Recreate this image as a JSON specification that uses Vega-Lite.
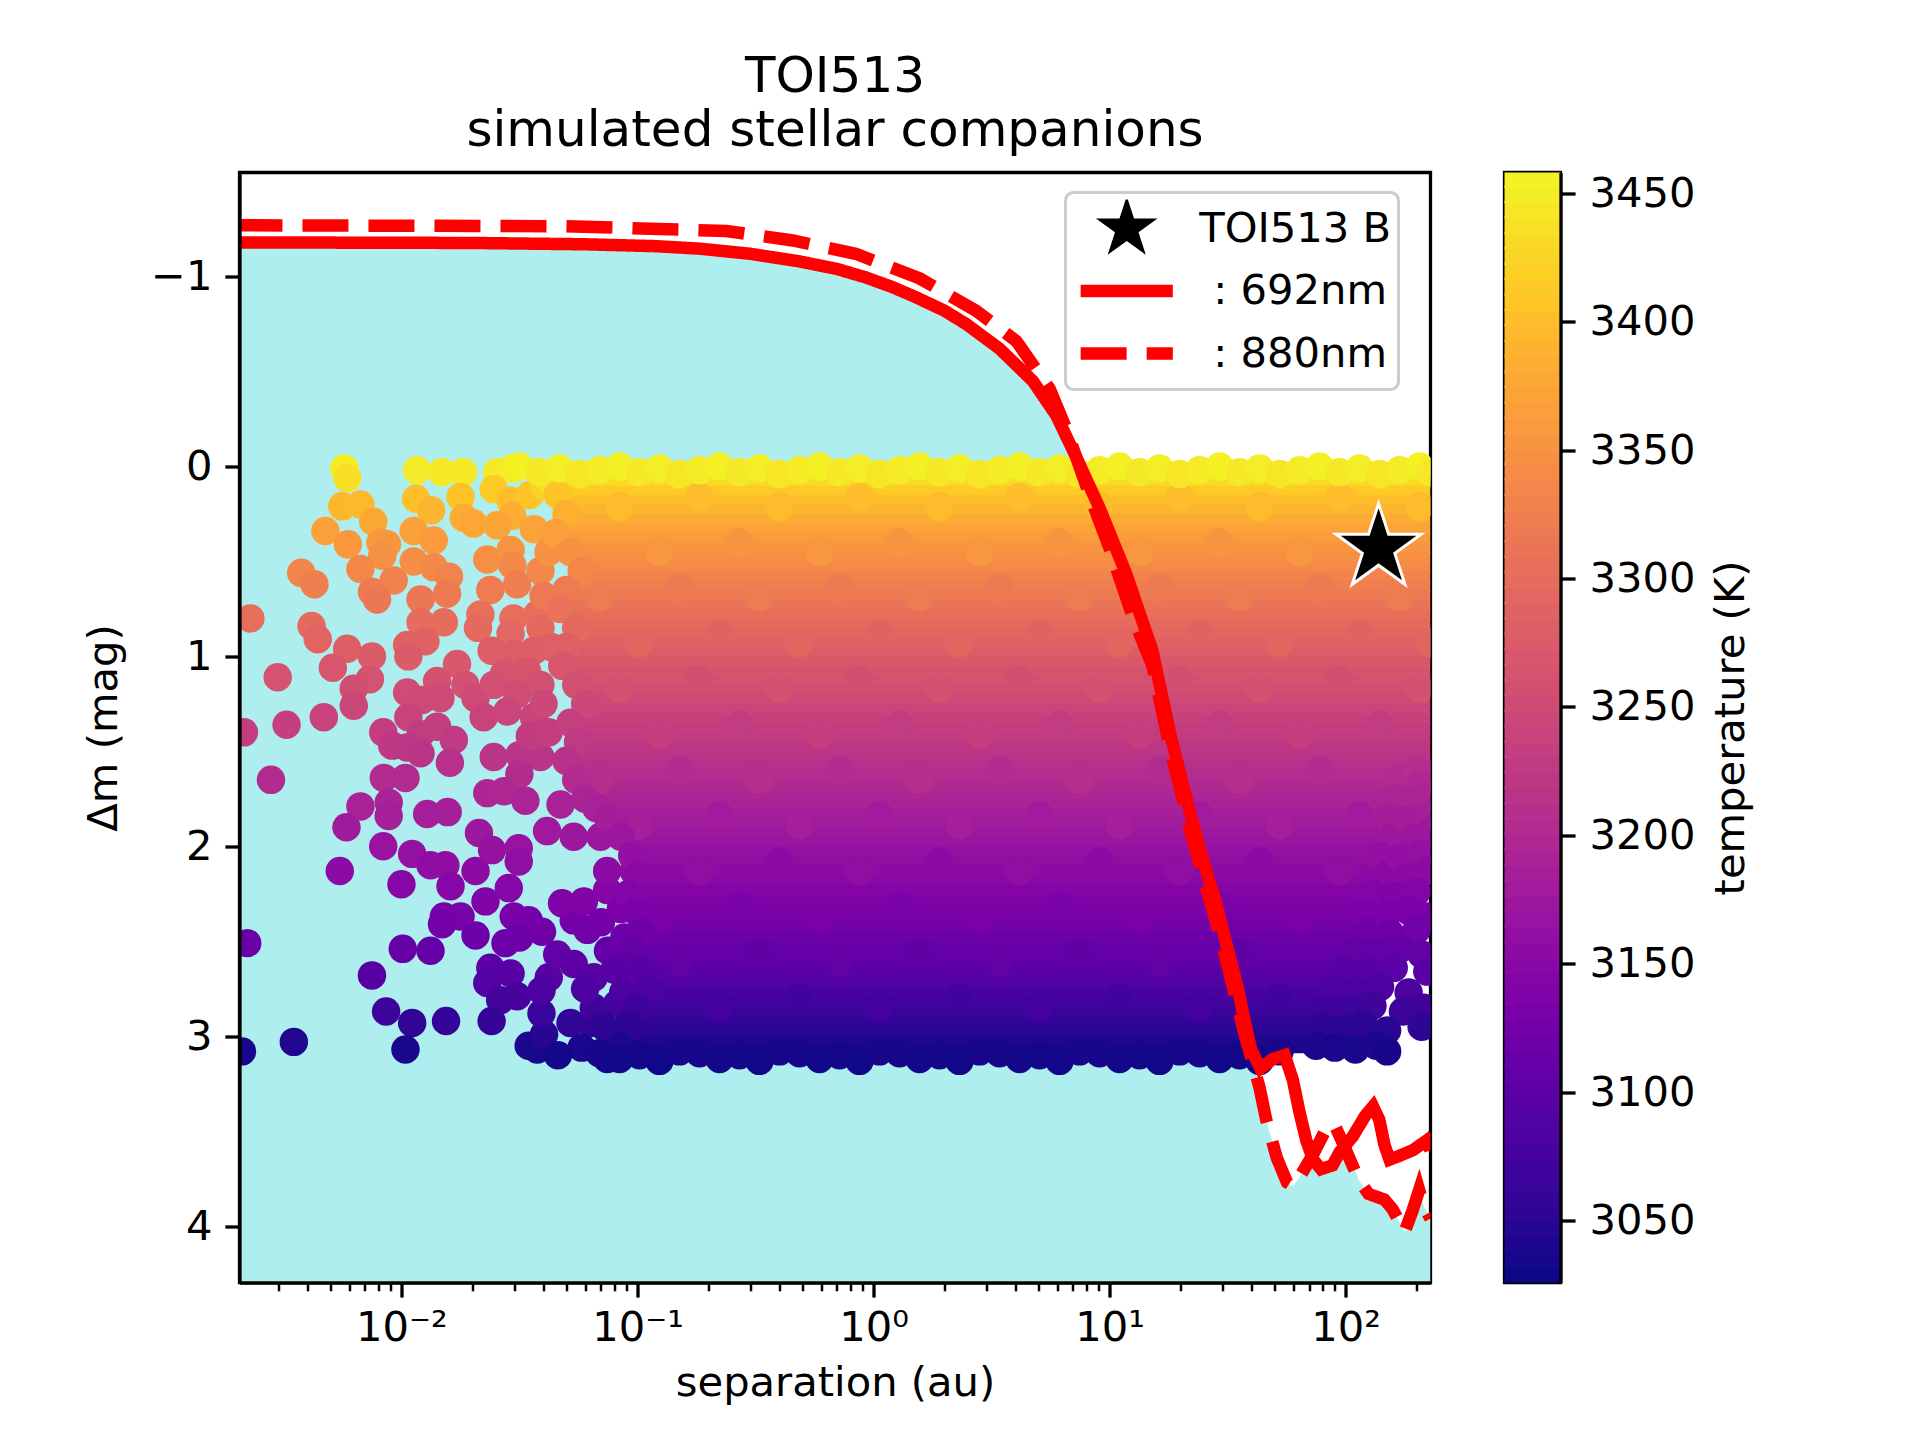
{
  "$schema": "https://vega.github.io/schema/vega-lite/v6.json",
  "background": "white",
  "padding": {"left": 81.5, "top": 49.5, "right": 10, "bottom": 10},
  "config": {
    "font": "DejaVu Sans",
    "view": {"stroke": "black", "strokeWidth": 3.3},
    "axis": {"labelFontSize": 41.67, "titleFontSize": 41.67, "titleFontWeight": "normal", "labelColor": "black", "titleColor": "black", "tickColor": "black", "domainColor": "black", "grid": false, "labelFlush": false, "labelOverlap": false},
    "legend": {"strokeWidth": 3}
  },
  "datasets": {
    "fill": [
      {"s":0.002,"m":-1.18},{"s":0.02,"m":-1.177},{"s":0.06,"m":-1.17},{"s":0.12,"m":-1.16},{"s":0.183,"m":-1.147},{"s":0.3,"m":-1.12},{"s":0.485,"m":-1.08},{"s":0.7,"m":-1.04},{"s":0.93,"m":-0.995},{"s":1.2,"m":-0.945},{"s":1.52,"m":-0.89},{"s":2.0,"m":-0.82},{"s":2.47,"m":-0.75},{"s":3.42,"m":-0.62},{"s":4.73,"m":-0.45},{"s":5.94,"m":-0.27},{"s":7.22,"m":-0.03},{"s":8.22,"m":0.15},{"s":10,"m":0.43},{"s":12.6,"m":0.8},{"s":15.2,"m":1.05},{"s":18,"m":1.48},{"s":22,"m":1.92},{"s":25,"m":2.17},{"s":28.3,"m":2.4},{"s":31.5,"m":2.62},{"s":35,"m":2.85},{"s":37.5,"m":3.0},{"s":40,"m":3.12},{"s":43.2,"m":3.27},{"s":46.1,"m":3.44},{"s":51.1,"m":3.64},{"s":56.5,"m":3.77},{"s":60,"m":3.79},{"s":64,"m":3.74},{"s":68.2,"m":3.68},{"s":72.9,"m":3.65},{"s":78.7,"m":3.7},{"s":88.1,"m":3.68},{"s":94.4,"m":3.61},{"s":98,"m":3.58},{"s":107,"m":3.67},{"s":114,"m":3.76},{"s":125,"m":3.83},{"s":146,"m":3.86},{"s":158,"m":3.91},{"s":178,"m":4.03},{"s":192,"m":3.92},{"s":205,"m":3.81},{"s":215,"m":3.9},{"s":229,"m":3.96}
    ],
    "curves": [
      {"s":0.002,"m":-1.18,"w":"692"},{"s":0.02,"m":-1.177,"w":"692"},{"s":0.06,"m":-1.17,"w":"692"},{"s":0.12,"m":-1.16,"w":"692"},{"s":0.183,"m":-1.147,"w":"692"},{"s":0.3,"m":-1.12,"w":"692"},{"s":0.485,"m":-1.08,"w":"692"},{"s":0.7,"m":-1.04,"w":"692"},{"s":0.93,"m":-0.995,"w":"692"},{"s":1.2,"m":-0.945,"w":"692"},{"s":1.52,"m":-0.89,"w":"692"},{"s":2.0,"m":-0.82,"w":"692"},{"s":2.47,"m":-0.75,"w":"692"},{"s":3.42,"m":-0.62,"w":"692"},{"s":4.73,"m":-0.45,"w":"692"},{"s":5.94,"m":-0.27,"w":"692"},{"s":7.22,"m":-0.05,"w":"692"},{"s":9.08,"m":0.22,"w":"692"},{"s":11.8,"m":0.57,"w":"692"},{"s":15.2,"m":0.97,"w":"692"},{"s":18,"m":1.4,"w":"692"},{"s":22,"m":1.83,"w":"692"},{"s":25,"m":2.08,"w":"692"},{"s":28.3,"m":2.3,"w":"692"},{"s":31.5,"m":2.53,"w":"692"},{"s":35,"m":2.75,"w":"692"},{"s":37.5,"m":2.93,"w":"692"},{"s":39.8,"m":3.07,"w":"692"},{"s":43.6,"m":3.17,"w":"692"},{"s":49.2,"m":3.12,"w":"692"},{"s":55.2,"m":3.1,"w":"692"},{"s":59.8,"m":3.23,"w":"692"},{"s":63.8,"m":3.4,"w":"692"},{"s":68.2,"m":3.55,"w":"692"},{"s":72.9,"m":3.65,"w":"692"},{"s":78.7,"m":3.7,"w":"692"},{"s":88.1,"m":3.68,"w":"692"},{"s":94.4,"m":3.61,"w":"692"},{"s":107,"m":3.53,"w":"692"},{"s":121,"m":3.42,"w":"692"},{"s":130.7,"m":3.37,"w":"692"},{"s":139,"m":3.44,"w":"692"},{"s":146,"m":3.57,"w":"692"},{"s":153.6,"m":3.65,"w":"692"},{"s":169,"m":3.63,"w":"692"},{"s":193,"m":3.6,"w":"692"},{"s":220,"m":3.55,"w":"692"},{"s":229,"m":3.6,"w":"692"},
      {"s":0.002,"m":-1.27,"w":"880"},{"s":0.05,"m":-1.265,"w":"880"},{"s":0.238,"m":-1.24,"w":"880"},{"s":0.455,"m":-1.19,"w":"880"},{"s":0.84,"m":-1.12,"w":"880"},{"s":1.57,"m":-0.99,"w":"880"},{"s":2.72,"m":-0.82,"w":"880"},{"s":4.03,"m":-0.66,"w":"880"},{"s":5.57,"m":-0.41,"w":"880"},{"s":6.55,"m":-0.2,"w":"880"},{"s":8.22,"m":0.15,"w":"880"},{"s":10,"m":0.43,"w":"880"},{"s":12.6,"m":0.8,"w":"880"},{"s":15.2,"m":1.05,"w":"880"},{"s":18,"m":1.48,"w":"880"},{"s":22,"m":1.92,"w":"880"},{"s":25,"m":2.17,"w":"880"},{"s":28.3,"m":2.4,"w":"880"},{"s":31.5,"m":2.62,"w":"880"},{"s":35,"m":2.85,"w":"880"},{"s":37.5,"m":3.0,"w":"880"},{"s":40,"m":3.12,"w":"880"},{"s":43.2,"m":3.27,"w":"880"},{"s":46.1,"m":3.44,"w":"880"},{"s":51.1,"m":3.64,"w":"880"},{"s":56.5,"m":3.77,"w":"880"},{"s":60,"m":3.79,"w":"880"},{"s":64,"m":3.74,"w":"880"},{"s":73,"m":3.62,"w":"880"},{"s":85,"m":3.46,"w":"880"},{"s":90,"m":3.47,"w":"880"},{"s":98,"m":3.57,"w":"880"},{"s":114,"m":3.76,"w":"880"},{"s":125,"m":3.83,"w":"880"},{"s":146,"m":3.86,"w":"880"},{"s":158,"m":3.91,"w":"880"},{"s":178,"m":4.03,"w":"880"},{"s":192,"m":3.92,"w":"880"},{"s":205,"m":3.81,"w":"880"},{"s":215,"m":3.9,"w":"880"},{"s":229,"m":3.96,"w":"880"}
    ],
    "star": [{"s":138,"m":0.43,"w":"B"}],
    "bands": [
      {"s":0.042,"s2":229,"m":0.02,"m2":0.08,"t":3435},{"s":0.042,"s2":229,"m":0.05,"m2":0.11,"t":3427},
      {"s":0.046,"s2":229,"m":0.1,"m2":0.16,"t":3411},{"s":0.046,"s2":229,"m":0.15,"m2":0.21,"t":3399},
      {"s":0.05,"s2":229,"m":0.2,"m2":0.26,"t":3387},{"s":0.05,"s2":229,"m":0.25,"m2":0.31,"t":3377},
      {"s":0.045,"s2":229,"m":0.3,"m2":0.36,"t":3367},{"s":0.045,"s2":229,"m":0.35,"m2":0.41,"t":3359},
      {"s":0.052,"s2":229,"m":0.4,"m2":0.46,"t":3351},{"s":0.052,"s2":229,"m":0.45,"m2":0.51,"t":3343},
      {"s":0.058,"s2":229,"m":0.5,"m2":0.56,"t":3336},{"s":0.058,"s2":229,"m":0.55,"m2":0.61,"t":3329},
      {"s":0.05,"s2":229,"m":0.6,"m2":0.66,"t":3322},{"s":0.05,"s2":229,"m":0.65,"m2":0.71,"t":3315},
      {"s":0.047,"s2":229,"m":0.7,"m2":0.76,"t":3308},{"s":0.047,"s2":229,"m":0.75,"m2":0.81,"t":3302},
      {"s":0.055,"s2":229,"m":0.8,"m2":0.86,"t":3295},{"s":0.055,"s2":229,"m":0.85,"m2":0.91,"t":3289},
      {"s":0.05,"s2":229,"m":0.9,"m2":0.96,"t":3282},{"s":0.05,"s2":229,"m":0.95,"m2":1.01,"t":3275},
      {"s":0.048,"s2":229,"m":1.0,"m2":1.06,"t":3269},{"s":0.048,"s2":229,"m":1.05,"m2":1.11,"t":3263},
      {"s":0.055,"s2":229,"m":1.1,"m2":1.16,"t":3258},{"s":0.055,"s2":229,"m":1.15,"m2":1.21,"t":3252},
      {"s":0.06,"s2":229,"m":1.2,"m2":1.26,"t":3246},{"s":0.06,"s2":229,"m":1.25,"m2":1.31,"t":3240},
      {"s":0.052,"s2":229,"m":1.3,"m2":1.36,"t":3235},{"s":0.052,"s2":229,"m":1.35,"m2":1.41,"t":3229},
      {"s":0.056,"s2":229,"m":1.4,"m2":1.46,"t":3224},{"s":0.056,"s2":229,"m":1.45,"m2":1.51,"t":3218},
      {"s":0.05,"s2":229,"m":1.5,"m2":1.56,"t":3213},{"s":0.05,"s2":229,"m":1.55,"m2":1.61,"t":3207},
      {"s":0.055,"s2":170,"m":1.6,"m2":1.66,"t":3202},{"s":0.055,"s2":170,"m":1.65,"m2":1.71,"t":3197},
      {"s":0.06,"s2":160,"m":1.7,"m2":1.76,"t":3192},{"s":0.06,"s2":160,"m":1.75,"m2":1.81,"t":3187},
      {"s":0.075,"s2":150,"m":1.8,"m2":1.86,"t":3182},{"s":0.075,"s2":150,"m":1.85,"m2":1.91,"t":3177},
      {"s":0.085,"s2":160,"m":1.9,"m2":1.96,"t":3172},{"s":0.085,"s2":160,"m":1.95,"m2":2.01,"t":3167},
      {"s":0.095,"s2":140,"m":2.0,"m2":2.06,"t":3162},{"s":0.095,"s2":140,"m":2.05,"m2":2.11,"t":3157},
      {"s":0.1,"s2":150,"m":2.1,"m2":2.16,"t":3152},{"s":0.1,"s2":150,"m":2.15,"m2":2.21,"t":3147},
      {"s":0.092,"s2":130,"m":2.2,"m2":2.26,"t":3142},{"s":0.092,"s2":130,"m":2.25,"m2":2.31,"t":3137},
      {"s":0.1,"s2":120,"m":2.3,"m2":2.36,"t":3132},{"s":0.1,"s2":120,"m":2.35,"m2":2.41,"t":3127},
      {"s":0.105,"s2":125,"m":2.4,"m2":2.46,"t":3121},{"s":0.105,"s2":125,"m":2.45,"m2":2.51,"t":3116},
      {"s":0.095,"s2":110,"m":2.5,"m2":2.56,"t":3110},{"s":0.095,"s2":110,"m":2.55,"m2":2.61,"t":3104},
      {"s":0.1,"s2":100,"m":2.6,"m2":2.66,"t":3098},{"s":0.1,"s2":100,"m":2.65,"m2":2.71,"t":3092},
      {"s":0.11,"s2":90,"m":2.7,"m2":2.76,"t":3085},{"s":0.11,"s2":90,"m":2.75,"m2":2.81,"t":3077},
      {"s":0.1,"s2":85,"m":2.8,"m2":2.86,"t":3070},{"s":0.1,"s2":85,"m":2.85,"m2":2.91,"t":3062},
      {"s":0.095,"s2":80,"m":2.9,"m2":2.96,"t":3054},{"s":0.095,"s2":80,"m":2.95,"m2":3.01,"t":3046},
      {"s":0.085,"s2":75,"m":3.0,"m2":3.06,"t":3039},{"s":0.085,"s2":75,"m":3.05,"m2":3.09,"t":3034}
    ],
    "scatter": [
      {"s":0.0839,"m":0.21,"t":3395},{"s":0.1831,"m":0.16,"t":3397},{"s":0.3997,"m":0.21,"t":3395},{"s":0.8723,"m":0.16,"t":3397},{"s":1.904,"m":0.21,"t":3395},{"s":4.156,"m":0.16,"t":3397},{"s":9.071,"m":0.21,"t":3395},{"s":19.8,"m":0.16,"t":3397},{"s":43.21,"m":0.21,"t":3395},{"s":94.32,"m":0.16,"t":3397},{"s":205.9,"m":0.21,"t":3395},
      {"s":0.1239,"m":0.45,"t":3352},{"s":0.2706,"m":0.4,"t":3350},{"s":0.5905,"m":0.45,"t":3352},{"s":1.289,"m":0.4,"t":3350},{"s":2.813,"m":0.45,"t":3352},{"s":6.14,"m":0.4,"t":3350},{"s":13.4,"m":0.45,"t":3352},{"s":29.25,"m":0.4,"t":3350},{"s":63.85,"m":0.45,"t":3352},{"s":139.4,"m":0.4,"t":3350},
      {"s":0.069,"m":0.69,"t":3318},{"s":0.1507,"m":0.64,"t":3315},{"s":0.3288,"m":0.69,"t":3318},{"s":0.7177,"m":0.64,"t":3315},{"s":1.566,"m":0.69,"t":3318},{"s":3.419,"m":0.64,"t":3315},{"s":7.463,"m":0.69,"t":3318},{"s":16.29,"m":0.64,"t":3315},{"s":35.56,"m":0.69,"t":3318},{"s":77.61,"m":0.64,"t":3315},{"s":169.4,"m":0.69,"t":3318},
      {"s":0.102,"m":0.93,"t":3287},{"s":0.2226,"m":0.88,"t":3284},{"s":0.4858,"m":0.93,"t":3287},{"s":1.06,"m":0.88,"t":3284},{"s":2.314,"m":0.93,"t":3287},{"s":5.051,"m":0.88,"t":3284},{"s":11.03,"m":0.93,"t":3287},{"s":24.07,"m":0.88,"t":3284},{"s":52.53,"m":0.93,"t":3287},{"s":114.6,"m":0.88,"t":3284},{"s":229,"m":0.93,"t":3287},
      {"s":0.0839,"m":1.17,"t":3256},{"s":0.1831,"m":1.12,"t":3254},{"s":0.3997,"m":1.17,"t":3256},{"s":0.8723,"m":1.12,"t":3254},{"s":1.904,"m":1.17,"t":3256},{"s":4.156,"m":1.12,"t":3254},{"s":9.071,"m":1.17,"t":3256},{"s":19.8,"m":1.12,"t":3254},{"s":43.21,"m":1.17,"t":3256},{"s":94.32,"m":1.12,"t":3254},{"s":205.9,"m":1.17,"t":3256},
      {"s":0.1239,"m":1.41,"t":3231},{"s":0.2706,"m":1.36,"t":3226},{"s":0.5905,"m":1.41,"t":3231},{"s":1.289,"m":1.36,"t":3226},{"s":2.813,"m":1.41,"t":3231},{"s":6.14,"m":1.36,"t":3226},{"s":13.4,"m":1.41,"t":3231},{"s":29.25,"m":1.36,"t":3226},{"s":63.85,"m":1.41,"t":3231},{"s":139.4,"m":1.36,"t":3226},
      {"s":0.069,"m":1.65,"t":3205},{"s":0.1507,"m":1.6,"t":3200},{"s":0.3288,"m":1.65,"t":3205},{"s":0.7177,"m":1.6,"t":3200},{"s":1.566,"m":1.65,"t":3205},{"s":3.419,"m":1.6,"t":3200},{"s":7.463,"m":1.65,"t":3205},{"s":16.29,"m":1.6,"t":3200},{"s":35.56,"m":1.65,"t":3205},{"s":77.61,"m":1.6,"t":3200},
      {"s":0.102,"m":1.89,"t":3181},{"s":0.2226,"m":1.84,"t":3176},{"s":0.4858,"m":1.89,"t":3181},{"s":1.06,"m":1.84,"t":3176},{"s":2.314,"m":1.89,"t":3181},{"s":5.051,"m":1.84,"t":3176},{"s":11.03,"m":1.89,"t":3181},{"s":24.07,"m":1.84,"t":3176},{"s":52.53,"m":1.89,"t":3181},{"s":114.6,"m":1.84,"t":3176},
      {"s":0.1831,"m":2.13,"t":3157},{"s":0.3997,"m":2.08,"t":3152},{"s":0.8723,"m":2.13,"t":3157},{"s":1.904,"m":2.08,"t":3152},{"s":4.156,"m":2.13,"t":3157},{"s":9.071,"m":2.08,"t":3152},{"s":19.8,"m":2.13,"t":3157},{"s":43.21,"m":2.08,"t":3152},{"s":94.32,"m":2.13,"t":3157},
      {"s":0.1239,"m":2.37,"t":3133},{"s":0.2706,"m":2.32,"t":3128},{"s":0.5905,"m":2.37,"t":3133},{"s":1.289,"m":2.32,"t":3128},{"s":2.813,"m":2.37,"t":3133},{"s":6.14,"m":2.32,"t":3128},{"s":13.4,"m":2.37,"t":3133},{"s":29.25,"m":2.32,"t":3128},{"s":63.85,"m":2.37,"t":3133},
      {"s":0.1507,"m":2.61,"t":3105},{"s":0.3288,"m":2.56,"t":3101},{"s":0.7177,"m":2.61,"t":3105},{"s":1.566,"m":2.56,"t":3101},{"s":3.419,"m":2.61,"t":3105},{"s":7.463,"m":2.56,"t":3101},{"s":16.29,"m":2.61,"t":3105},{"s":35.56,"m":2.56,"t":3101},
      {"s":0.2226,"m":2.85,"t":3071},{"s":0.4858,"m":2.8,"t":3068},{"s":1.06,"m":2.85,"t":3071},{"s":2.314,"m":2.8,"t":3068},{"s":5.051,"m":2.85,"t":3071},{"s":11.03,"m":2.8,"t":3068},{"s":24.07,"m":2.85,"t":3071},{"s":52.53,"m":2.8,"t":3068},
      {"s":0.00573,"m":0.01,"t":3446},{"s":0.00589,"m":0.06,"t":3432},{"s":0.00561,"m":0.21,"t":3390},{"s":0.0067,"m":0.2,"t":3393},{"s":0.00759,"m":0.29,"t":3374},{"s":0.00476,"m":0.34,"t":3365},{"s":0.00593,"m":0.41,"t":3353},{"s":0.00815,"m":0.4,"t":3355},{"s":0.00869,"m":0.41,"t":3353},{"s":0.00829,"m":0.47,"t":3344},{"s":0.0067,"m":0.54,"t":3334},{"s":0.00376,"m":0.56,"t":3331},{"s":0.00428,"m":0.62,"t":3323},{"s":0.00927,"m":0.6,"t":3326},{"s":0.0075,"m":0.66,"t":3318},{"s":0.00788,"m":0.7,"t":3312},{"s":0.00229,"m":0.8,"t":3299},{"s":0.00416,"m":0.84,"t":3294},{"s":0.00442,"m":0.91,"t":3285},{"s":0.00589,"m":0.96,"t":3278},{"s":0.0075,"m":1.0,"t":3272},{"s":0.00512,"m":1.06,"t":3265},{"s":0.00735,"m":1.12,"t":3259},{"s":0.00299,"m":1.11,"t":3260},{"s":0.00628,"m":1.17,"t":3252},{"s":0.00628,"m":1.26,"t":3242},{"s":0.00326,"m":1.36,"t":3231},{"s":0.00469,"m":1.32,"t":3236},{"s":0.00215,"m":1.4,"t":3227},{"s":0.00837,"m":1.4,"t":3227},{"s":0.00914,"m":1.47,"t":3219},{"s":0.0028,"m":1.65,"t":3200},{"s":0.00842,"m":1.64,"t":3201},
      {"s":0.01165,"m":0.02,"t":3444},{"s":0.01486,"m":0.03,"t":3442},{"s":0.01824,"m":0.03,"t":3442},{"s":0.01153,"m":0.17,"t":3400},{"s":0.0178,"m":0.16,"t":3402},{"s":0.01336,"m":0.23,"t":3387},{"s":0.01127,"m":0.34,"t":3365},{"s":0.0137,"m":0.39,"t":3357},{"s":0.01836,"m":0.27,"t":3378},{"s":0.01127,"m":0.5,"t":3340},{"s":0.0137,"m":0.53,"t":3336},{"s":0.0159,"m":0.58,"t":3329},{"s":0.01205,"m":0.7,"t":3312},{"s":0.0156,"m":0.67,"t":3316},{"s":0.01205,"m":0.82,"t":3296},{"s":0.01513,"m":0.82,"t":3296},{"s":0.01057,"m":0.94,"t":3281},{"s":0.01264,"m":0.92,"t":3283},{"s":0.0107,"m":1.0,"t":3272},{"s":0.0172,"m":1.04,"t":3268},{"s":0.01416,"m":1.13,"t":3258},{"s":0.01057,"m":1.19,"t":3250},{"s":0.01224,"m":1.23,"t":3246},{"s":0.01463,"m":1.22,"t":3247},{"s":0.01866,"m":1.15,"t":3255},{"s":0.0107,"m":1.32,"t":3236},{"s":0.01205,"m":1.41,"t":3226},{"s":0.01416,"m":1.37,"t":3230},{"s":0.01667,"m":1.44,"t":3223},{"s":0.01057,"m":1.48,"t":3218},{"s":0.01205,"m":1.51,"t":3215},{"s":0.01604,"m":1.56,"t":3209},{"s":0.0206,"m":1.22,"t":3247},{"s":0.0223,"m":1.32,"t":3236},
      {"s":0.0255,"m":0.03,"t":3442},{"s":0.0295,"m":0.01,"t":3446},{"s":0.0246,"m":0.12,"t":3412},{"s":0.029,"m":0.18,"t":3398},{"s":0.0295,"m":0.26,"t":3380},{"s":0.0202,"m":0.3,"t":3372},{"s":0.0255,"m":0.31,"t":3370},{"s":0.0364,"m":0.33,"t":3367},{"s":0.0231,"m":0.49,"t":3342},{"s":0.029,"m":0.44,"t":3349},{"s":0.0295,"m":0.52,"t":3337},{"s":0.0238,"m":0.65,"t":3319},{"s":0.0309,"m":0.62,"t":3323},{"s":0.0388,"m":0.55,"t":3333},{"s":0.0216,"m":0.78,"t":3302},{"s":0.0298,"m":0.8,"t":3299},{"s":0.0376,"m":0.78,"t":3302},{"s":0.0211,"m":0.85,"t":3292},{"s":0.029,"m":0.88,"t":3288},{"s":0.0388,"m":0.85,"t":3292},{"s":0.0241,"m":0.97,"t":3276},{"s":0.0301,"m":0.99,"t":3274},{"s":0.0364,"m":0.97,"t":3276},{"s":0.0272,"m":1.09,"t":3262},{"s":0.0341,"m":1.08,"t":3263},{"s":0.0246,"m":1.15,"t":3255},{"s":0.0309,"m":1.2,"t":3249},{"s":0.0388,"m":1.15,"t":3255},{"s":0.0281,"m":1.29,"t":3239},{"s":0.0364,"m":1.32,"t":3236},{"s":0.0246,"m":1.53,"t":3213},{"s":0.0316,"m":1.52,"t":3214},{"s":0.0388,"m":1.53,"t":3213},{"s":0.0316,"m":1.62,"t":3203},
      {"s":0.035,"m":0.15,"t":3405},{"s":0.04,"m":0.1,"t":3418},{"s":0.042,"m":0.45,"t":3347},{"s":0.04,"m":1.25,"t":3243},{"s":0.035,"m":1.42,"t":3225},{"s":0.042,"m":1.4,"t":3227},{"s":0.04,"m":0.68,"t":3314},{"s":0.043,"m":0.95,"t":3279},
      {"s":0.0104,"m":1.64,"t":3201},{"s":0.0067,"m":1.79,"t":3186},{"s":0.00883,"m":1.77,"t":3188},{"s":0.00883,"m":1.84,"t":3181},{"s":0.00585,"m":1.9,"t":3175},{"s":0.01285,"m":1.83,"t":3182},{"s":0.0157,"m":1.82,"t":3183},{"s":0.00837,"m":2.0,"t":3165},{"s":0.0111,"m":2.04,"t":3161},{"s":0.00548,"m":2.13,"t":3152},{"s":0.01,"m":2.2,"t":3145},{"s":0.01328,"m":2.1,"t":3155},{"s":0.01535,"m":2.1,"t":3155},{"s":0.01614,"m":2.21,"t":3144},{"s":0.0213,"m":1.93,"t":3172},{"s":0.0242,"m":2.02,"t":3163},{"s":0.0206,"m":2.13,"t":3152},{"s":0.0314,"m":2.01,"t":3164},{"s":0.0314,"m":2.08,"t":3157},{"s":0.0231,"m":1.72,"t":3193},{"s":0.0272,"m":1.71,"t":3194},{"s":0.0335,"m":1.76,"t":3189},{"s":0.0227,"m":2.29,"t":3136},{"s":0.0285,"m":2.22,"t":3143},{"s":0.01513,"m":2.37,"t":3127},{"s":0.0178,"m":2.37,"t":3127},{"s":0.01486,"m":2.41,"t":3123},{"s":0.0206,"m":2.47,"t":3116},{"s":0.0299,"m":2.37,"t":3127},{"s":0.00222,"m":2.51,"t":3112},{"s":0.01013,"m":2.54,"t":3108},{"s":0.01328,"m":2.55,"t":3107},{"s":0.0276,"m":2.51,"t":3112},{"s":0.0394,"m":2.45,"t":3119},{"s":0.0075,"m":2.68,"t":3091},{"s":0.0238,"m":2.64,"t":3096},{"s":0.0231,"m":2.72,"t":3087},{"s":0.029,"m":2.67,"t":3093},{"s":0.0262,"m":2.81,"t":3072},{"s":0.0309,"m":2.79,"t":3075},{"s":0.0421,"m":2.69,"t":3090},{"s":0.00861,"m":2.87,"t":3063},{"s":0.0111,"m":2.93,"t":3054},{"s":0.01545,"m":2.92,"t":3056},{"s":0.0241,"m":2.92,"t":3056},{"s":0.0035,"m":3.03,"t":3040},{"s":0.00211,"m":3.08,"t":3033},{"s":0.0104,"m":3.07,"t":3034},{"s":0.0346,"m":3.05,"t":3037},{"s":0.0376,"m":3.07,"t":3034},{"s":0.0402,"m":2.99,"t":3044},{"s":0.0392,"m":2.88,"t":3061},{"s":0.052,"m":2.93,"t":3054},{"s":0.0632,"m":2.93,"t":3054},{"s":0.0744,"m":3.12,"t":3031},{"s":0.083,"m":3.03,"t":3040},{"s":0.0457,"m":2.57,"t":3104},{"s":0.0392,"m":2.76,"t":3080},{"s":0.0346,"m":2.39,"t":3125},{"s":0.0316,"m":2.48,"t":3115},{"s":0.0537,"m":2.62,"t":3098},{"s":0.0537,"m":2.39,"t":3125},{"s":0.0479,"m":2.3,"t":3135},{"s":0.0593,"m":2.29,"t":3136},{"s":0.0653,"m":2.69,"t":3090},{"s":0.0653,"m":2.85,"t":3067},{"s":0.0613,"m":2.44,"t":3120},{"s":0.082,"m":2.83,"t":3070},{"s":0.087,"m":2.77,"t":3078},{"s":0.0744,"m":2.23,"t":3142},{"s":0.0964,"m":2.13,"t":3152},{"s":0.0414,"m":1.92,"t":3173},{"s":0.0472,"m":1.78,"t":3187},{"s":0.0537,"m":1.95,"t":3170},{"s":0.0697,"m":1.95,"t":3170},{"s":0.0744,"m":2.13,"t":3152},
      {"s":0.09,"m":2.95,"t":3050},{"s":0.06,"m":2.75,"t":3081},{"s":0.075,"m":2.55,"t":3107},{"s":0.088,"m":2.48,"t":3115},{"s":0.07,"m":2.4,"t":3124},{"s":0.085,"m":2.33,"t":3132},{"s":0.08,"m":2.65,"t":3095},{"s":0.092,"m":2.75,"t":3081},{"s":0.058,"m":3.06,"t":3035},{"s":0.046,"m":3.1,"t":3030},{"s":0.072,"m":2.95,"t":3050},
      {"s":0.042,"m":0.06,"t":3432},{"s":0.046,"m":0.15,"t":3405},{"s":0.05,"m":0.25,"t":3382},{"s":0.045,"m":0.35,"t":3363},{"s":0.052,"m":0.45,"t":3347},{"s":0.058,"m":0.55,"t":3333},{"s":0.05,"m":0.65,"t":3319},{"s":0.047,"m":0.75,"t":3305},{"s":0.055,"m":0.85,"t":3292},{"s":0.05,"m":0.95,"t":3279},{"s":0.048,"m":1.05,"t":3266},{"s":0.055,"m":1.15,"t":3255},{"s":0.06,"m":1.25,"t":3243},{"s":0.052,"m":1.35,"t":3232},{"s":0.056,"m":1.45,"t":3221},{"s":0.05,"m":1.55,"t":3210},{"s":0.055,"m":1.65,"t":3200},{"s":0.06,"m":1.75,"t":3190},{"s":0.067,"m":1.8,"t":3185},{"s":0.075,"m":1.85,"t":3180},{"s":0.085,"m":1.95,"t":3170},{"s":0.095,"m":2.05,"t":3160},{"s":0.1,"m":2.15,"t":3150},{"s":0.092,"m":2.25,"t":3140},{"s":0.1,"m":2.35,"t":3130},{"s":0.105,"m":2.45,"t":3119},{"s":0.095,"m":2.55,"t":3107},{"s":0.1,"m":2.65,"t":3095},{"s":0.11,"m":2.75,"t":3081},{"s":0.1,"m":2.85,"t":3066},{"s":0.095,"m":2.95,"t":3050},{"s":0.085,"m":3.05,"t":3036},
      {"s":0.0316,"m":0.0,"t":3450},{"s":0.0384,"m":0.03,"t":3442},{"s":0.0467,"m":0.01,"t":3447},{"s":0.0568,"m":0.04,"t":3440},{"s":0.069,"m":0.02,"t":3445},{"s":0.0839,"m":0.0,"t":3450},{"s":0.102,"m":0.03,"t":3442},{"s":0.1239,"m":0.01,"t":3447},{"s":0.1507,"m":0.04,"t":3440},{"s":0.1831,"m":0.02,"t":3445},{"s":0.2226,"m":0.0,"t":3450},{"s":0.2706,"m":0.03,"t":3442},{"s":0.3288,"m":0.01,"t":3447},{"s":0.3997,"m":0.04,"t":3440},{"s":0.4858,"m":0.02,"t":3445},{"s":0.5905,"m":0.0,"t":3450},{"s":0.7177,"m":0.03,"t":3442},{"s":0.8723,"m":0.01,"t":3447},{"s":1.06,"m":0.04,"t":3440},{"s":1.289,"m":0.02,"t":3445},{"s":1.566,"m":0.0,"t":3450},{"s":1.904,"m":0.03,"t":3442},{"s":2.314,"m":0.01,"t":3447},{"s":2.813,"m":0.04,"t":3440},{"s":3.419,"m":0.02,"t":3445},{"s":4.156,"m":0.0,"t":3450},{"s":5.051,"m":0.03,"t":3442},{"s":6.14,"m":0.01,"t":3447},{"s":7.463,"m":0.04,"t":3440},{"s":9.071,"m":0.02,"t":3445},{"s":11.03,"m":0.0,"t":3450},{"s":13.4,"m":0.03,"t":3442},{"s":16.29,"m":0.01,"t":3447},{"s":19.8,"m":0.04,"t":3440},{"s":24.07,"m":0.02,"t":3445},{"s":29.25,"m":0.0,"t":3450},{"s":35.56,"m":0.03,"t":3442},{"s":43.21,"m":0.01,"t":3447},{"s":52.53,"m":0.04,"t":3440},{"s":63.85,"m":0.02,"t":3445},{"s":77.61,"m":0.0,"t":3450},{"s":94.32,"m":0.03,"t":3442},{"s":114.6,"m":0.01,"t":3447},{"s":139.4,"m":0.04,"t":3440},{"s":169.4,"m":0.02,"t":3445},{"s":205.9,"m":0.0,"t":3450},{"s":229,"m":0.03,"t":3442},
      {"s":0.069,"m":3.09,"t":3032},{"s":0.0839,"m":3.12,"t":3029},{"s":0.102,"m":3.1,"t":3031},{"s":0.1239,"m":3.13,"t":3028},{"s":0.1507,"m":3.08,"t":3033},{"s":0.1831,"m":3.09,"t":3032},{"s":0.2226,"m":3.12,"t":3029},{"s":0.2706,"m":3.1,"t":3031},{"s":0.3288,"m":3.13,"t":3028},{"s":0.3997,"m":3.08,"t":3033},{"s":0.4858,"m":3.09,"t":3032},{"s":0.5905,"m":3.12,"t":3029},{"s":0.7177,"m":3.1,"t":3031},{"s":0.8723,"m":3.13,"t":3028},{"s":1.06,"m":3.08,"t":3033},{"s":1.289,"m":3.09,"t":3032},{"s":1.566,"m":3.12,"t":3029},{"s":1.904,"m":3.1,"t":3031},{"s":2.314,"m":3.13,"t":3028},{"s":2.813,"m":3.08,"t":3033},{"s":3.419,"m":3.09,"t":3032},{"s":4.156,"m":3.12,"t":3029},{"s":5.051,"m":3.1,"t":3031},{"s":6.14,"m":3.13,"t":3028},{"s":7.463,"m":3.08,"t":3033},{"s":9.071,"m":3.09,"t":3032},{"s":11.03,"m":3.12,"t":3029},{"s":13.4,"m":3.1,"t":3031},{"s":16.29,"m":3.13,"t":3028},{"s":19.8,"m":3.08,"t":3033},{"s":24.07,"m":3.09,"t":3032},{"s":29.25,"m":3.12,"t":3029},{"s":35.56,"m":3.1,"t":3031},{"s":43.21,"m":3.13,"t":3028},{"s":52.53,"m":3.08,"t":3033},
      {"s":170,"m":1.65,"t":3200},{"s":160,"m":1.75,"t":3190},{"s":150,"m":1.85,"t":3180},{"s":160,"m":1.95,"t":3170},{"s":140,"m":2.05,"t":3160},{"s":150,"m":2.15,"t":3150},{"s":130,"m":2.25,"t":3140},{"s":120,"m":2.35,"t":3130},{"s":125,"m":2.45,"t":3119},{"s":110,"m":2.55,"t":3107},{"s":100,"m":2.65,"t":3095},{"s":90,"m":2.75,"t":3081},{"s":85,"m":2.85,"t":3066},{"s":80,"m":2.95,"t":3050},{"s":75,"m":3.05,"t":3036},{"s":200,"m":1.6,"t":3205},{"s":225,"m":1.62,"t":3203},
      {"s":205,"m":1.68,"t":3196},{"s":195,"m":1.76,"t":3189},{"s":225,"m":1.74,"t":3191},{"s":180,"m":1.86,"t":3179},{"s":220,"m":1.84,"t":3181},{"s":195,"m":1.96,"t":3169},{"s":225,"m":1.93,"t":3172},{"s":170,"m":2.06,"t":3159},{"s":210,"m":2.04,"t":3161},{"s":185,"m":2.16,"t":3149},{"s":222,"m":2.13,"t":3152},{"s":160,"m":2.26,"t":3139},{"s":200,"m":2.24,"t":3141},{"s":150,"m":2.36,"t":3129},{"s":185,"m":2.34,"t":3131},{"s":222,"m":2.37,"t":3127},{"s":155,"m":2.46,"t":3118},{"s":200,"m":2.44,"t":3120},{"s":135,"m":2.56,"t":3106},{"s":170,"m":2.54,"t":3108},{"s":210,"m":2.57,"t":3105},{"s":125,"m":2.66,"t":3094},{"s":160,"m":2.64,"t":3096},{"s":222,"m":2.66,"t":3094},{"s":112,"m":2.76,"t":3079},{"s":140,"m":2.74,"t":3082},{"s":185,"m":2.77,"t":3078},{"s":105,"m":2.86,"t":3064},{"s":130,"m":2.84,"t":3067},{"s":175,"m":2.87,"t":3063},{"s":215,"m":2.85,"t":3066},{"s":100,"m":2.96,"t":3048},{"s":120,"m":2.94,"t":3051},{"s":150,"m":2.97,"t":3046},{"s":210,"m":2.95,"t":3050},{"s":90,"m":3.06,"t":3035},{"s":110,"m":3.07,"t":3034},{"s":135,"m":3.05,"t":3036},{"s":150,"m":3.08,"t":3033}
    ],
    "cbar": [
      {"a":3026,"b":3033},{"a":3032,"b":3039},{"a":3038,"b":3045},{"a":3044,"b":3051},{"a":3050,"b":3057},{"a":3056,"b":3063},{"a":3062,"b":3069},{"a":3068,"b":3075},{"a":3074,"b":3081},{"a":3080,"b":3087},{"a":3086,"b":3093},{"a":3092,"b":3099},{"a":3098,"b":3105},{"a":3104,"b":3111},{"a":3110,"b":3117},{"a":3116,"b":3123},{"a":3122,"b":3129},{"a":3128,"b":3135},{"a":3134,"b":3141},{"a":3140,"b":3147},{"a":3146,"b":3153},{"a":3152,"b":3159},{"a":3158,"b":3165},{"a":3164,"b":3171},{"a":3170,"b":3177},{"a":3176,"b":3183},{"a":3182,"b":3189},{"a":3188,"b":3195},{"a":3194,"b":3201},{"a":3200,"b":3207},{"a":3206,"b":3213},{"a":3212,"b":3219},{"a":3218,"b":3225},{"a":3224,"b":3231},{"a":3230,"b":3237},{"a":3236,"b":3243},{"a":3242,"b":3249},{"a":3248,"b":3255},{"a":3254,"b":3261},{"a":3260,"b":3267},{"a":3266,"b":3273},{"a":3272,"b":3279},{"a":3278,"b":3285},{"a":3284,"b":3291},{"a":3290,"b":3297},{"a":3296,"b":3303},{"a":3302,"b":3309},{"a":3308,"b":3315},{"a":3314,"b":3321},{"a":3320,"b":3327},{"a":3326,"b":3333},{"a":3332,"b":3339},{"a":3338,"b":3345},{"a":3344,"b":3351},{"a":3350,"b":3357},{"a":3356,"b":3363},{"a":3362,"b":3369},{"a":3368,"b":3375},{"a":3374,"b":3381},{"a":3380,"b":3387},{"a":3386,"b":3393},{"a":3392,"b":3399},{"a":3398,"b":3405},{"a":3404,"b":3411},{"a":3410,"b":3417},{"a":3416,"b":3423},{"a":3422,"b":3429},{"a":3428,"b":3435},{"a":3434,"b":3441},{"a":3440,"b":3447},{"a":3446,"b":3453},{"a":3452,"b":3458}
    ]
  },
  "spacing": 74,
  "bounds": "flush",
  "hconcat": [
    {
      "width": 1191,
      "height": 1110,
      "title": {"text": ["TOI513", "simulated stellar companions"], "fontSize": 50, "fontWeight": "normal", "lineHeight": 54, "frame": "group", "anchor": "middle", "offset": 17, "color": "black"},
      "encoding": {
        "x": {"field": "s", "type": "quantitative",
          "scale": {"type": "log", "domain": [0.00206, 229], "nice": false},
          "axis": {"title": "separation (au)", "zindex": 1, "domainWidth": 3.3,
            "values": [0.003,0.004,0.005,0.006,0.007,0.008,0.009,0.01,0.02,0.03,0.04,0.05,0.06,0.07,0.08,0.09,0.1,0.2,0.3,0.4,0.5,0.6,0.7,0.8,0.9,1,2,3,4,5,6,7,8,9,10,20,30,40,50,60,70,80,90,100,200],
            "labelExpr": "datum.value == 0.01 ? '10⁻²' : datum.value == 0.1 ? '10⁻¹' : datum.value == 1 ? '10⁰' : datum.value == 10 ? '10¹' : datum.value == 100 ? '10²' : ''",
            "tickSize": {"condition": {"test": "indexof([0.01,0.1,1,10,100], datum.value) >= 0", "value": 14.6}, "value": 8.3},
            "tickWidth": {"condition": {"test": "indexof([0.01,0.1,1,10,100], datum.value) >= 0", "value": 3.3}, "value": 2.5},
            "labelPadding": 10, "titlePadding": 14}},
        "y": {"field": "m", "type": "quantitative",
          "scale": {"domain": [-1.548, 4.297], "reverse": true, "nice": false, "zero": false},
          "axis": {"title": "Δm (mag)", "zindex": 1, "domainWidth": 3.3, "values": [-1, 0, 1, 2, 3, 4], "tickSize": 14.6, "tickWidth": 3.3, "labelPadding": 13, "titlePadding": 25}}
      },
      "layer": [
        {"data": {"name": "fill"}, "mark": {"type": "area", "color": "#afeeee", "clip": true},
         "encoding": {"y2": {"datum": 4.297}}},
        {"data": {"name": "bands"}, "mark": {"type": "rect", "clip": true},
         "encoding": {
           "x2": {"field": "s2"},
           "y2": {"field": "m2"},
           "fill": {"field": "t", "type": "quantitative", "scale": {"scheme": "plasma", "domain": [3026, 3458]}, "legend": null}}},
        {"data": {"name": "scatter"}, "mark": {"type": "circle", "size": 810, "opacity": 1, "clip": true},
         "encoding": {"fill": {"field": "t", "type": "quantitative", "scale": {"scheme": "plasma", "domain": [3026, 3458]}, "legend": null}}},
        {"data": {"name": "curves"}, "mark": {"type": "line", "strokeWidth": 12.5, "clip": true},
         "encoding": {
           "color": {"field": "w", "type": "nominal", "scale": {"domain": ["B", "692", "880"], "range": ["black", "red", "red"]},
             "legend": {"title": null, "orient": "none", "legendX": 826, "legendY": 20, "direction": "vertical",
               "fillColor": "white", "strokeColor": "#cccccc", "cornerRadius": 8, "padding": 7,
               "symbolType": "stroke", "symbolSize": 8500, "symbolStrokeWidth": 12.5, "symbolOffset": 1.75,
               "clipHeight": 58, "rowPadding": 4.5, "labelOffset": 20, "labelFontSize": 41.67, "labelColor": "black", "labelLimit": 400,
               "labelExpr": "datum.value === 'B' ? 'TOI513 B' : ': ' + datum.value + 'nm'",
               "encode": {
                 "labels": {"update": {"dx": {"signal": "(datum.value === 'B' ? 0 : 14)"}}},
                 "symbols": {"update": {
                 "shape": {"signal": "(datum.value === 'B' ? 'M0,-1L0.2245,-0.309L0.951,-0.309L0.363,0.118L0.588,0.809L0,0.382L-0.588,0.809L-0.363,0.118L-0.951,-0.309L-0.2245,-0.309Z' : 'stroke')"},
                 "size": {"signal": "(datum.value === 'B' ? 4200 : 8500)"},
                 "fill": {"signal": "(datum.value === 'B' ? 'black' : 'transparent')"},
                 "strokeWidth": {"signal": "(datum.value === 'B' ? 0 : 12.5)"},
                 "strokeDash": {"signal": "(datum.value === '880' ? [46, 20] : [1, 0])"},
                 "opacity": {"value": 1}}}}}},
           "strokeDash": {"field": "w", "type": "nominal", "scale": {"domain": ["B", "692", "880"], "range": [[1, 0], [1, 0], [46, 20]]}, "legend": null}}},
        {"data": {"name": "star"}, "mark": {"type": "point", "filled": true, "opacity": 1, "size": 8000, "stroke": "white", "strokeWidth": 3,
           "shape": "M0,-1L0.2245,-0.309L0.951,-0.309L0.363,0.118L0.588,0.809L0,0.382L-0.588,0.809L-0.363,0.118L-0.951,-0.309L-0.2245,-0.309Z"},
         "encoding": {"color": {"field": "w", "type": "nominal", "scale": {"domain": ["B", "692", "880"], "range": ["black", "red", "red"]}, "legend": null}}}
      ]
    },
    {
      "width": 56,
      "height": 1110,
      "data": {"name": "cbar"},
      "mark": {"type": "rect"},
      "encoding": {
        "y": {"field": "a", "type": "quantitative",
          "scale": {"domain": [3026, 3458], "nice": false, "zero": false},
          "axis": {"orient": "right", "title": "temperature (K)", "titleAngle": 270, "titleBaseline": "top", "format": "d", "values": [3050, 3100, 3150, 3200, 3250, 3300, 3350, 3400, 3450], "tickSize": 14.6, "tickWidth": 3.3, "labelPadding": 14, "titlePadding": 15, "zindex": 1, "domainWidth": 3.3}},
        "y2": {"field": "b"},
        "fill": {"field": "a", "type": "quantitative", "scale": {"scheme": "plasma", "domain": [3026, 3458]}, "legend": null}
      }
    }
  ]
}
